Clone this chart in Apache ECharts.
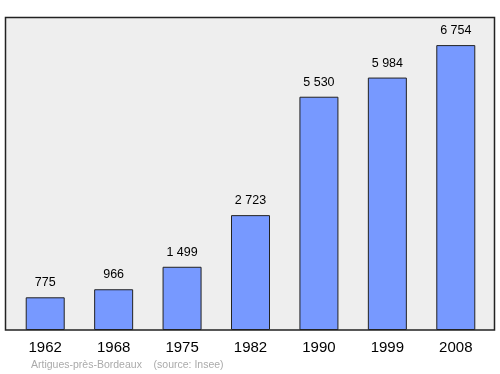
<!DOCTYPE html>
<html><head><meta charset="utf-8">
<script src="https://cdn.jsdelivr.net/npm/echarts@6/dist/echarts.min.js"></script>
<style>html,body{margin:0;padding:0;background:#fff}#c{width:500px;height:374px}</style>
</head><body><div id="c"></div>
<script>
const categories = ['1962','1968','1975','1982','1990','1999','2008'];
const population = [775, 966, 1499, 2723, 5530, 5984, 6754];
const caption = 'Artigues-près-Bordeaux    (source: Insee)';

function fmt(v){ return String(v).replace(/\B(?=(\d{3})+(?!\d))/g, ' '); }

const FONT = '"Liberation Sans", Arial, sans-serif';
const chart = echarts.init(document.getElementById('c'), null, {renderer:'canvas'});
chart.setOption({
  animation:false,
  graphic:[
    {type:'rect', z:-10, shape:{x:5.5,y:17.5,width:489,height:312.5}, style:{fill:'#eeeeee', stroke:'#222', lineWidth:1.5}},
    {type:'text', left:31, top:359.5, style:{text:caption, fill:'#aaaaaa', font:'10.5px ' + FONT}}
  ],
  grid:{left:11, right:10, top:17, bottom:44},
  xAxis:{type:'category', data:categories, axisLine:{show:false}, axisTick:{show:false},
    axisLabel:{color:'#000', fontSize:15, fontFamily:FONT, margin:10}},
  yAxis:{type:'value', min:0, max:7420, show:false, splitLine:{show:false}},
  series:[{type:'bar', data:population, barWidth:39,
    itemStyle:{color:'#7799ff', borderColor:'#222', borderWidth:1},
    label:{show:true, position:'top', distance:8, color:'#000', fontSize:12.5, fontFamily:FONT,
      formatter:p=>fmt(p.value)}}]
});
</script></body></html>
